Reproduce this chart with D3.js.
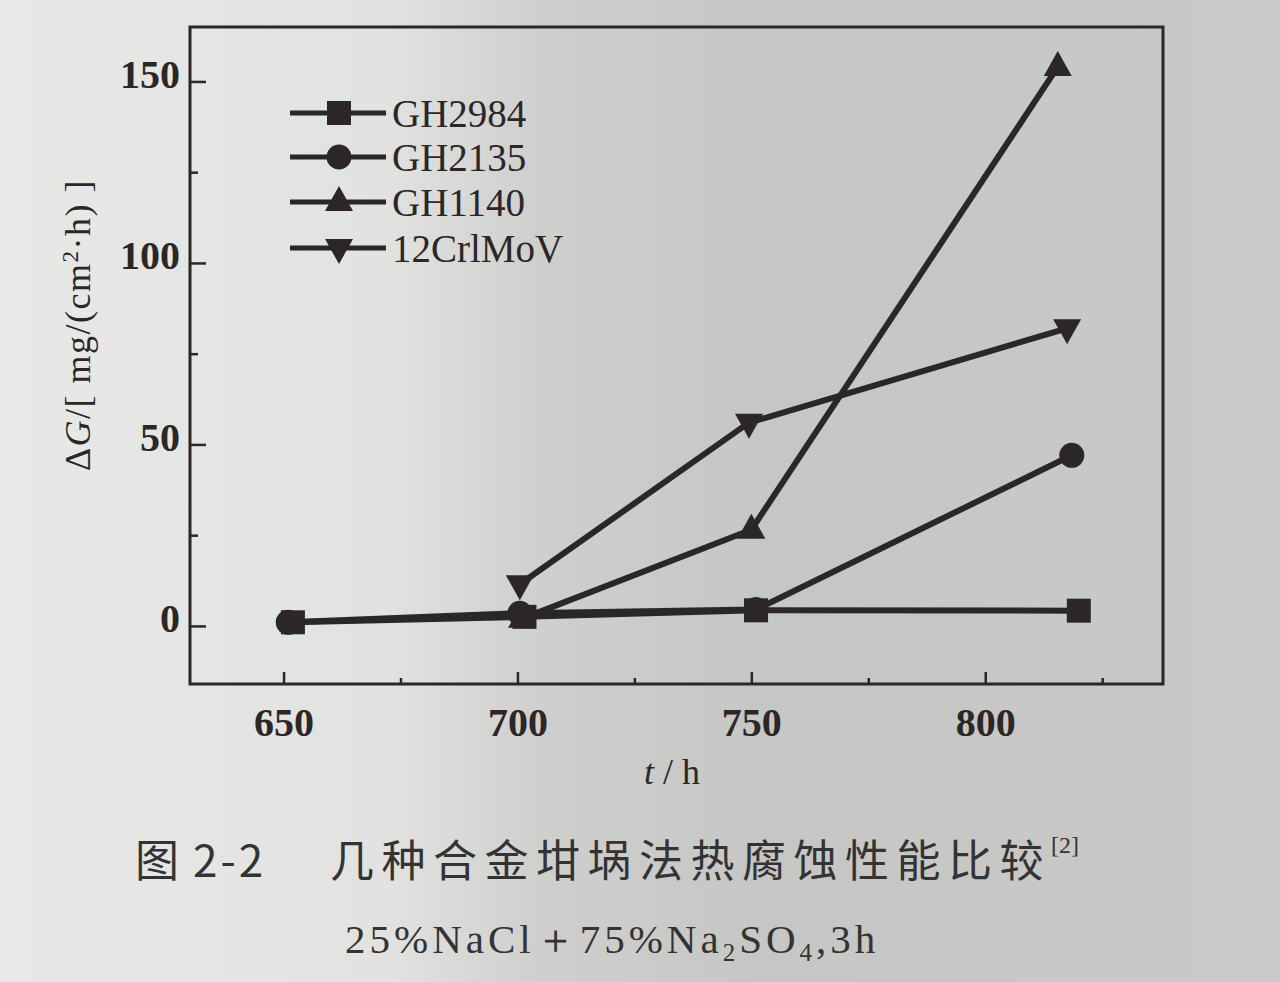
<!DOCTYPE html>
<html><head><meta charset="utf-8">
<script src="https://cdn.jsdelivr.net/npm/d3@7"></script>
<style>html,body{margin:0;padding:0;background:#d6d6d4;}svg{display:block;}</style>
</head><body>
<svg id="chart" width="1280" height="982"></svg>
<script>
// ---- data ----
const seriesNames = ["GH2984", "GH2135", "GH1140", "12CrlMoV"];
const gh2984Time = [652, 701.5, 751, 820];
const gh2984Gain = [1, 2.5, 4.3, 4.2];
const gh2135Time = [651, 700.5, 751, 818.5];
const gh2135Gain = [1, 3.5, 4.5, 47];
const gh1140Time = [701, 750, 815.5];
const gh1140Gain = [2, 26.5, 154];
const crMoVTime = [700.5, 749.5, 817.5];
const crMoVGain = [11.5, 56, 82];
const xTicks = [650, 700, 750, 800];
const xMinorTicks = [675, 725, 775, 825];
const yTicks = [0, 50, 100, 150];
const yMinorTicks = [25, 75, 125];
const markerShapes = ["square", "circle", "triangle", "triangleDown"];

(function () {
const svg = d3.select("#chart");
const W = 1280, H = 982;
const ink = "#2b2727";

// photographed page background
const defs = svg.append("defs");
const g1 = defs.append("linearGradient").attr("id", "bg").attr("x1", "0").attr("x2", "1").attr("y1", "0").attr("y2", "0");
[[0, "#e8e8e6"], [0.3, "#e2e2e0"], [0.42, "#cfcfcd"], [0.6, "#c6c6c4"], [1, "#c9c9c7"]]
  .forEach(([o, c]) => g1.append("stop").attr("offset", o).attr("stop-color", c));
svg.append("rect").attr("width", W).attr("height", H).attr("fill", "url(#bg)");

const pLeft = 190, pRight = 1163, pTop = 27, pBottom = 684;
const x = d3.scaleLinear().domain([630, 838]).range([pLeft, pRight]);
const y = d3.scaleLinear().domain([-16, 165]).range([pBottom, pTop]);

// frame
svg.append("rect").attr("x", pLeft).attr("y", pTop).attr("width", pRight - pLeft).attr("height", pBottom - pTop)
  .attr("fill", "none").attr("stroke", ink).attr("stroke-width", 3);

// axes with inward ticks
const xAxis = svg.append("g").attr("transform", `translate(0,${pBottom})`)
  .call(d3.axisBottom(x).tickValues(xTicks).tickSize(-12).tickPadding(24).tickFormat(d3.format("d")));
const xMinor = svg.append("g").attr("transform", `translate(0,${pBottom})`)
  .call(d3.axisBottom(x).tickValues(xMinorTicks).tickSize(-6).tickFormat(""));
const yAxis = svg.append("g").attr("transform", `translate(${pLeft},0)`)
  .call(d3.axisLeft(y).tickValues(yTicks).tickSize(-16).tickPadding(10).tickFormat(d3.format("d")));
const yMinor = svg.append("g").attr("transform", `translate(${pLeft},0)`)
  .call(d3.axisLeft(y).tickValues(yMinorTicks).tickSize(-8).tickFormat(""));
[xAxis, xMinor, yAxis, yMinor].forEach(a => {
  a.select(".domain").remove();
  a.selectAll(".tick line").attr("stroke", ink).attr("stroke-width", 2.5);
  a.selectAll(".tick text").attr("fill", ink).style("font-family", "'Liberation Serif', 'DejaVu Serif', serif")
    .style("font-size", "40px").style("font-weight", "bold");
});
yAxis.selectAll(".tick text").attr("dy", "0.15em");

// series
const seriesData = [
  { name: seriesNames[0], t: gh2984Time, v: gh2984Gain, shape: markerShapes[0] },
  { name: seriesNames[1], t: gh2135Time, v: gh2135Gain, shape: markerShapes[1] },
  { name: seriesNames[2], t: gh1140Time, v: gh1140Gain, shape: markerShapes[2] },
  { name: seriesNames[3], t: crMoVTime, v: crMoVGain, shape: markerShapes[3] }
].map(s => ({ ...s, pts: s.t.map((t, i) => [t, s.v[i]]) }));

const line = d3.line().x(d => x(d[0])).y(d => y(d[1]));

function drawMarker(g, shape, cx, cy) {
  if (shape === "square") {
    g.append("rect").attr("x", cx - 12).attr("y", cy - 12).attr("width", 24).attr("height", 24).attr("fill", ink);
  } else if (shape === "circle") {
    g.append("circle").attr("cx", cx).attr("cy", cy).attr("r", 12.5).attr("fill", ink);
  } else if (shape === "triangle") {
    g.append("path").attr("d", `M${cx},${cy - 16}L${cx + 14},${cy + 9}L${cx - 14},${cy + 9}Z`).attr("fill", ink);
  } else {
    g.append("path").attr("d", `M${cx},${cy + 16}L${cx + 14},${cy - 9}L${cx - 14},${cy - 9}Z`).attr("fill", ink);
  }
}

const plot = svg.append("g");
seriesData.forEach(s => {
  plot.append("path").attr("d", line(s.pts)).attr("fill", "none").attr("stroke", ink).attr("stroke-width", 6)
    .attr("stroke-linejoin", "round");
});
[3, 2, 1, 0].forEach(i => {
  const s = seriesData[i];
  s.pts.forEach(p => drawMarker(plot, s.shape, x(p[0]), y(p[1])));
});

// legend
const legY = [113, 157, 202, 248];
const legend = svg.append("g");
seriesData.forEach((s, i) => {
  const ly = legY[i];
  legend.append("line").attr("x1", 290).attr("x2", 386).attr("y1", ly).attr("y2", ly)
    .attr("stroke", ink).attr("stroke-width", 5);
  drawMarker(legend, s.shape, 339, ly);
  legend.append("text").attr("x", 392).attr("y", ly + 14).text(s.name).attr("fill", ink)
    .style("font-family", "'Liberation Serif', 'DejaVu Serif', serif").style("font-size", "39px");
});

// axis titles
const yt = svg.append("text").attr("transform", "translate(90,325) rotate(-90)").attr("text-anchor", "middle")
  .attr("fill", ink).style("font-family", "'Liberation Serif', serif").style("font-size", "36px")
  .style("letter-spacing", "1.5px");
yt.append("tspan").text("Δ");
yt.append("tspan").text("G").style("font-style", "italic");
yt.append("tspan").text("/[ mg/(cm");
yt.append("tspan").text("2").attr("dy", -12).style("font-size", "23px");
yt.append("tspan").text("·h) ]").attr("dy", 12);

const xt = svg.append("text").attr("x", 672).attr("y", 784).attr("text-anchor", "middle")
  .attr("fill", ink).style("font-family", "'Liberation Serif', serif").style("font-size", "36px");
xt.append("tspan").text("t").style("font-style", "italic");
xt.append("tspan").text(" / h");

// caption
const cap = svg.append("text").attr("x", 135).attr("y", 877).attr("fill", "#333")
  .style("font-family", "'Noto Sans CJK SC', sans-serif").style("font-size", "44px");
cap.append("tspan").text("图");
cap.append("tspan").attr("x", 193).text("2-2").style("letter-spacing", "3px");
cap.append("tspan").attr("x", 330).text("几种合金坩埚法热腐蚀性能比较").style("letter-spacing", "7.5px");
cap.append("tspan").text("[2]").attr("dy", -24).style("font-size", "24px").style("font-family", "'Liberation Serif', serif");

const sub = svg.append("text").attr("x", 345).attr("y", 953).attr("fill", "#333")
  .style("font-family", "'Liberation Serif', serif").style("font-size", "41px").style("letter-spacing", "4px");
sub.append("tspan").text("25%NaCl＋75%Na");
sub.append("tspan").text("2").attr("dy", 8).style("font-size", "25px");
sub.append("tspan").text("SO").attr("dy", -8);
sub.append("tspan").text("4").attr("dy", 8).style("font-size", "25px");
sub.append("tspan").text(",3h").attr("dy", -8);
})();
</script>
</body></html>
